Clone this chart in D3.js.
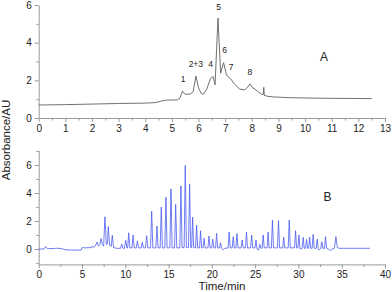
<!DOCTYPE html>
<html>
<head>
<meta charset="utf-8">
<script src="https://cdn.jsdelivr.net/npm/d3@7"></script>
<style>
  body { margin: 0; background: #fff; }
  svg { display: block; font-family: "Liberation Sans", Arial, sans-serif; }
  .axis path, .axis line { stroke: #9a9a9a; }
  .axis text { fill: #222; font-size: 10px; }
</style>
</head>
<body>
<svg id="chart" width="392" height="292"></svg>
<script>
// panel A trace: [time (min), absorbance]
const traceA = [
  [0, 0.69], [1, 0.71], [2, 0.74], [3, 0.77], [4, 0.79], [4.4, 0.82], [4.6, 0.9], [4.8, 0.95],
  [5.2, 0.96], [5.3, 1.05], [5.4, 1.42], [5.5, 1.25], [5.7, 1.28], [5.8, 1.4], [5.9, 2.23],
  [6.0, 1.6], [6.1, 1.3], [6.18, 1.26], [6.3, 1.5], [6.45, 2.1], [6.55, 2.2], [6.62, 1.76],
  [6.73, 5.3], [6.83, 2.38], [6.94, 2.94], [7.05, 2.29], [7.1, 2.2], [7.2, 2.09], [7.35, 1.8],
  [7.55, 1.53], [7.74, 1.49], [7.85, 1.65], [7.93, 1.81], [8.03, 1.6], [8.12, 1.53], [8.25, 1.38],
  [8.37, 1.26], [8.43, 1.25], [8.45, 1.63], [8.47, 1.2], [8.6, 1.15], [8.8, 1.12], [9.4, 1.08],
  [10.5, 1.05], [12.5, 1.03]
];

// panel A peak labels: [text, time, absorbance]
const peakLabels = [
  ["1", 5.42, 1.9], ["2+3", 5.9, 2.7], ["4", 6.45, 2.7], ["5", 6.75, 5.75],
  ["6", 6.98, 3.45], ["7", 7.22, 2.55], ["8", 7.93, 2.3]
];

// panel B trace: [time (min), absorbance]
const traceB = [
  [0, 0], [0.6, 0.0], [0.8, 0.18], [1.0, 0.02], [1.8, 0.04], [2.2, 0.06], [2.8, 0.0], [3.2, -0.07],
  [4.9, -0.08], [5.0, 0.1], [5.3, 0.08], [5.9, 0.1], [6.1, 0.1], [6.2, 0.22], [6.3, 0.12],
  [6.45, 0.15], [6.6, 0.3], [6.75, 0.5], [6.9, 0.2], [7.05, 0.3], [7.2, 0.75], [7.35, 0.3],
  [7.5, 0.2], [7.65, 2.3], [7.82, 0.3], [7.95, 0.4], [8.04, 1.6], [8.2, 0.25], [8.38, 0.2],
  [8.5, 0.98], [8.65, 0.1], [9.0, 0.05], [9.45, 0.05], [9.6, 0.35], [9.72, 0.05], [9.9, 0.05],
  [10.05, 0.62], [10.18, 0.08], [10.28, 0.08], [10.4, 1.16], [10.53, 0.08], [10.77, 0.08],
  [10.9, 1.0], [11.03, 0.08], [11.27, 0.08], [11.4, 0.57], [11.53, 0.08], [11.84, 0.08],
  [11.97, 0.48], [12.1, 0.08], [12.34, 0.08], [12.47, 0.95], [12.6, 0.08], [12.92, 0.08],
  [13.05, 2.7], [13.18, 0.08], [13.53, 0.08], [13.66, 1.64], [13.79, 0.08], [14.03, 0.08],
  [14.16, 3.0], [14.29, 0.08], [14.57, 0.08], [14.7, 3.7], [14.83, 0.08], [15.15, 0.08],
  [15.28, 4.29], [15.41, 0.08], [15.69, 0.08], [15.82, 3.19], [15.95, 0.08], [16.3, 0.08],
  [16.43, 4.5], [16.56, 0.1], [16.8, 0.1], [16.93, 5.97], [17.06, 0.1], [17.3, 0.1],
  [17.43, 4.62], [17.56, 0.1], [17.67, 0.1], [17.78, 2.28], [17.9, 0.1], [18.12, 0.08],
  [18.24, 1.7], [18.36, 0.08], [18.58, 0.08], [18.7, 1.31], [18.82, 0.08], [18.98, 0.08],
  [19.1, 0.76], [19.22, 0.08], [19.55, 0.08], [19.67, 0.93], [19.79, 0.08], [19.98, 0.08],
  [20.1, 0.71], [20.22, 0.08], [20.43, 0.08], [20.55, 1.12], [20.67, 0.08], [20.88, 0.08],
  [21.0, 0.45], [21.12, 0.05], [21.3, -0.05], [21.5, 0.05], [21.88, 0.08], [22.0, 1.21],
  [22.12, 0.08], [22.35, 0.08], [22.47, 0.88], [22.59, 0.08], [22.78, 0.08], [22.9, 1.1],
  [23.02, 0.08], [23.38, 0.08], [23.5, 0.64], [23.62, 0.08], [23.88, 0.08], [24.0, 1.21],
  [24.12, 0.08], [24.48, 0.08], [24.6, 1.0], [24.72, 0.08], [24.98, 0.08], [25.1, 0.64],
  [25.22, 0.0], [25.35, -0.08], [25.45, 0.05], [25.55, 0.33], [25.67, 0.05], [25.81, 0.08],
  [25.93, 1.0], [26.05, 0.08], [26.38, 0.08], [26.5, 1.21], [26.62, 0.08], [26.88, 0.08],
  [27.0, 2.07], [27.12, 0.08], [27.58, 0.08], [27.7, 2.02], [27.82, 0.08], [28.18, 0.08],
  [28.3, 0.83], [28.42, 0.08], [28.82, 0.08], [28.94, 2.07], [29.06, 0.08], [29.55, 0.08],
  [29.67, 1.31], [29.79, 0.08], [29.94, 0.08], [30.06, 1.0], [30.18, 0.0], [30.43, 0.05],
  [30.55, 0.83], [30.67, 0.05], [30.82, 0.05], [30.94, 0.69], [31.06, 0.05], [31.18, 0.05],
  [31.3, 0.83], [31.42, 0.05], [31.58, 0.05], [31.7, 1.05], [31.82, 0.05], [32.05, 0.05],
  [32.17, 0.71], [32.29, 0.0], [32.4, -0.08], [32.58, 0.05], [32.7, 0.52], [32.82, 0.05],
  [33.01, 0.05], [33.13, 0.88], [33.25, 0.05], [33.5, -0.02], [33.7, -0.12], [33.9, 0.0],
  [34.15, 0.05], [34.33, 0.88], [34.5, 0.1], [34.7, 0.05], [38.25, 0.05]
];

// tick values
const xTicksA = d3.range(0, 14, 1);
const xMinorA = d3.range(0.5, 13, 1);
const yTicksA = [0, 2, 4, 6];
const yMinorA = [1, 3, 5];
const xTicksB = [0, 5, 10, 15, 20, 25, 30, 35, 40];
const xMinorB = d3.range(2.5, 40, 5);
const yTicksB = [0, 2, 4, 6];
const yMinorB = [-1, 1, 3, 5, 7];

const svg = d3.select('#chart');

// scales
const xA = d3.scaleLinear().domain([0, 13]).range([38.7, 385]);
const yA = d3.scaleLinear().domain([0, 6]).range([118, 5]);
const xB = d3.scaleLinear().domain([0, 40]).range([38.7, 385]);
const yB = d3.scaleLinear().domain([-1.1, 7.05]).range([264.4, 150.3]);

function drawAxes(x, y, xt, xm, yt, ym) {
    const y0 = y.range()[0], x0 = x.range()[0];
    const g = svg.append('g');
    g.append('g').attr('class', 'axis')
        .attr('transform', `translate(0,${y0})`)
        .call(d3.axisBottom(x).tickValues(xm).tickSize(2.5).tickFormat(''))
        .select('.domain').remove();
    g.append('g').attr('class', 'axis')
        .attr('transform', `translate(0,${y0})`)
        .call(d3.axisBottom(x).tickValues(xt).tickSize(4).tickPadding(3).tickSizeOuter(0).tickFormat(d3.format('d')));
    g.append('g').attr('class', 'axis')
        .attr('transform', `translate(${x0},0)`)
        .call(d3.axisLeft(y).tickValues(ym).tickSize(2.5).tickFormat(''))
        .select('.domain').remove();
    g.append('g').attr('class', 'axis')
        .attr('transform', `translate(${x0},0)`)
        .call(d3.axisLeft(y).tickValues(yt).tickSize(4).tickPadding(3).tickSizeOuter(0).tickFormat(d3.format('d')));
}

drawAxes(xA, yA, xTicksA, xMinorA, yTicksA, yMinorA);
drawAxes(xB, yB, xTicksB, xMinorB, yTicksB, yMinorB);

// traces
const lineA = d3.line().x(d => xA(d[0])).y(d => yA(d[1]));
const lineB = d3.line().x(d => xB(d[0])).y(d => yB(d[1]));

svg.append('path').datum(traceA)
    .attr('d', lineA)
    .attr('fill', 'none')
    .attr('stroke', '#606060')
    .attr('stroke-width', 0.9);

svg.append('path').datum(traceB)
    .attr('d', lineB)
    .attr('fill', 'none')
    .attr('stroke', '#4b5cf0')
    .attr('stroke-width', 0.8);

// peak numbers
svg.append('g').selectAll('text')
    .data(peakLabels)
    .enter().append('text')
    .attr('x', d => xA(d[1]))
    .attr('y', d => yA(d[2]))
    .attr('text-anchor', 'middle')
    .style('font-size', '8.5px')
    .style('fill', '#222')
    .text(d => d[0]);

// panel letters
svg.append('text').attr('x', 324).attr('y', 61)
    .attr('text-anchor', 'middle').style('font-size', '12px').style('fill', '#222').text('A');
svg.append('text').attr('x', 327.5).attr('y', 201)
    .attr('text-anchor', 'middle').style('font-size', '12px').style('fill', '#222').text('B');

// axis titles
svg.append('text')
    .attr('transform', 'translate(10,140) rotate(-90)')
    .attr('text-anchor', 'middle')
    .style('font-size', '11.5px').style('fill', '#222')
    .text('Absorbance/AU');
svg.append('text')
    .attr('x', 222).attr('y', 290)
    .attr('text-anchor', 'middle')
    .style('font-size', '11.5px').style('fill', '#222')
    .text('Time/min');
</script>
</body>
</html>
